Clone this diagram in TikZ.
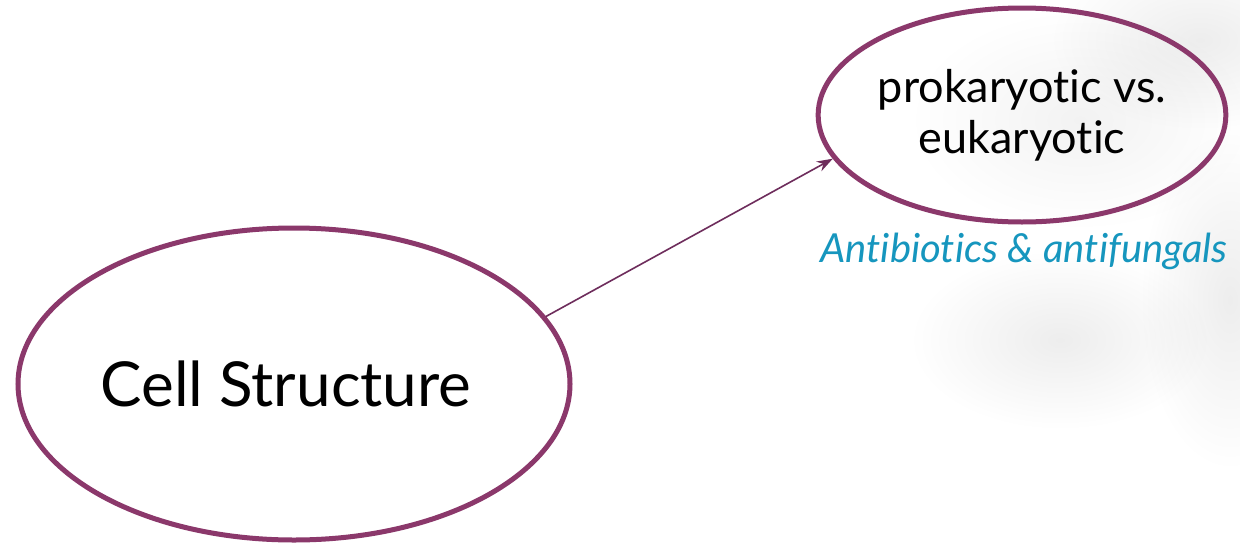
\documentclass[tikz,border=0pt]{standalone}
\usepackage{fontspec}
\setmainfont{Lato}[Ligatures=NoCommon]
\usetikzlibrary{shapes.geometric,arrows.meta,fadings}
\definecolor{plum}{RGB}{139,56,107}
\definecolor{plumdark}{RGB}{110,45,92}
\definecolor{teal}{RGB}{22,150,190}
\tikzfading[name=softspot, inner color=transparent!0, outer color=transparent!100]
\tikzset{
  bubble/.style={ellipse, draw=plum, line width=5pt, inner sep=0pt, text=black, align=center},
  link/.style={draw=plumdark, line width=1.6pt, -{Stealth[length=16pt,width=11pt]}},
  note/.style={text=teal, font=\itshape\fontsize{40}{48}\selectfont},
  haze/.style={fill=black, path fading=softspot}
}
\begin{document}
\begin{tikzpicture}[x=1pt,y=-1pt]
  \useasboundingbox (0,0) rectangle (1240,544);
  \fill[white] (0,0) rectangle (1240,544);
  % soft background haze on the right
  \fill[haze, opacity=0.07] (1060,340) ellipse (150 and 90);
  \fill[haze, opacity=0.07] (1230,300) ellipse (90 and 170);
  \fill[haze, opacity=0.07] (1200,40) ellipse (150 and 90);
  \fill[haze, opacity=0.05] (1080,120) ellipse (170 and 110);

  \node[bubble, minimum width=552pt, minimum height=312pt,
        font=\fontsize{62}{70}\selectfont] (cell) at (294,384) {\hspace*{-16pt}Cell Structure};
  \node[bubble, minimum width=404pt, minimum height=214pt,
        font=\fontsize{45}{51}\selectfont] (pro) at (1022,115) {prokaryotic vs.\\eukaryotic};
  \node[note, anchor=base] (anti) at (1024,262) {Antibiotics \& antifungals};

  \draw[link] (cell.15) -- (pro.193);
\end{tikzpicture}
\end{document}
